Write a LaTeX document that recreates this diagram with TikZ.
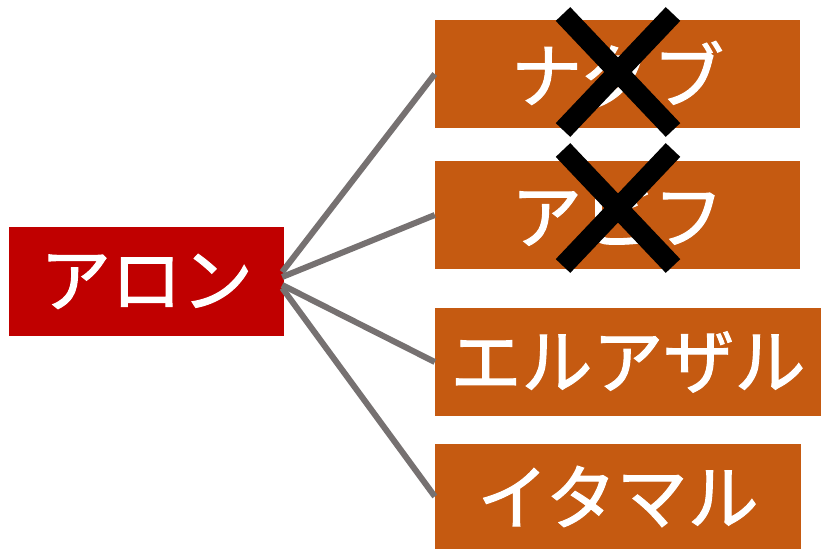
\documentclass[tikz,border=0pt]{standalone}
\usepackage{fontspec}
\newfontfamily\jp{Noto Sans CJK JP}[FakeBold=1.5]
\usetikzlibrary{calc}
\definecolor{aaronred}{HTML}{C00000}
\definecolor{sonorange}{HTML}{C55A11}
\definecolor{linkgray}{HTML}{767171}
\begin{document}
\begin{tikzpicture}[x=1pt,y=1pt,
  box/.style={rectangle, inner sep=0pt, text=white, font=\jp\fontsize{71}{75}\selectfont},
  link/.style={draw=linkgray, line width=6pt},
  strike/.style={draw=black, line width=20pt}]
\useasboundingbox (0,0) rectangle (821,549);
\node[box, fill=aaronred, minimum width=275pt, minimum height=109pt] (aaron) at (146.5,267.5) {アロン};
\node[box, fill=sonorange, minimum width=365pt, minimum height=108pt] (b1) at (617.5,475) {ナダブ};
\node[box, fill=sonorange, minimum width=365pt, minimum height=108pt] (b2) at (617.5,334) {アビフ};
\node[box, fill=sonorange, minimum width=386pt, minimum height=108pt] (b3) at (628,187) {エルアザル};
\node[box, fill=sonorange, minimum width=366pt, minimum height=105pt] (b4) at (618,52.5) {イタマル};
\draw[link] ([shift={(-2,9.5)}]aaron.east) -- (b1.west);
\draw[link] ([shift={(-2,4.5)}]aaron.east) -- (b2.west);
\draw[link] ([shift={(-2,-3.5)}]aaron.east) -- (b3.west);
\draw[link] ([shift={(-2,-6.5)}]aaron.east) -- (b4.west);
\coordinate (x1) at ($(b1.center)+(0.5,2)$);
\coordinate (x2) at ($(b2.center)+(0.5,7)$);
\draw[strike] ($(x1)+(-55,58)$) -- ($(x1)+(55,-58)$);
\draw[strike] ($(x1)+(55,58)$) -- ($(x1)+(-55,-58)$);
\draw[strike] ($(x2)+(-55,58)$) -- ($(x2)+(55,-58)$);
\draw[strike] ($(x2)+(55,58)$) -- ($(x2)+(-55,-58)$);
\end{tikzpicture}
\end{document}
